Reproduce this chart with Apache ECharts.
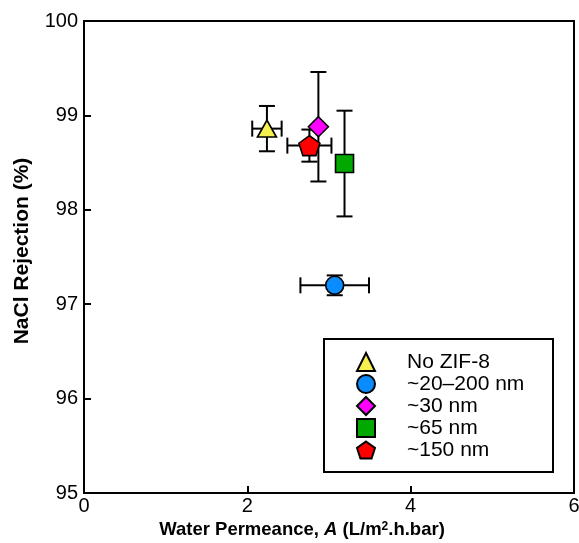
<!DOCTYPE html>
<html>
<head>
<meta charset="utf-8">
<script src="https://cdn.jsdelivr.net/npm/echarts@6/dist/echarts.min.js"></script>
<style>
  html, body { margin: 0; padding: 0; background: #fff; }
  #chart { width: 579px; height: 543px; }
</style>
</head>
<body>
<div id="chart"></div>
<script>
// Membrane samples: permeance A (L/m2.h.bar) vs NaCl rejection (%)
const sampleNames = ['No ZIF-8', '~20\u2013200 nm', '~30 nm', '~65 nm', '~150 nm'];
const permeance   = [2.24, 3.07, 2.87, 3.19, 2.76];
const permeanceErr = [0.18, 0.42, 0.00, 0.00, 0.27];
const rejection   = [98.86, 97.20, 98.88, 98.49, 98.68];
const rejectionErr = [0.24, 0.105, 0.58, 0.56, 0.17];
const xTicks = [0, 2, 4, 6];
const yTicks = [95, 96, 97, 98, 99, 100];

const markerSymbols = [
  'triangle',
  'circle',
  'diamond',
  'rect',
  'path://M0,-10 L9.51,-3.09 L5.88,8.09 L-5.88,8.09 L-9.51,-3.09 Z'
];
const markerColors = ['#f5f050', '#0a8cff', '#ff00ff', '#00a800', '#ff0000'];
const markerSizes = [[19, 17], 18, 20, 18, [21, 20]];

const errorData = sampleNames.map((n, i) =>
  [permeance[i], rejection[i], permeanceErr[i], rejectionErr[i]]);

function renderErrorBars(params, api) {
  const x = api.value(0), y = api.value(1);
  const dx = api.value(2), dy = api.value(3);
  const cap = 8;
  const style = { stroke: '#000', lineWidth: 2 };
  const children = [];
  if (dy > 0) {
    const top = api.coord([x, y + dy]);
    const bot = api.coord([x, y - dy]);
    children.push(
      { type: 'line', shape: { x1: top[0], y1: top[1], x2: bot[0], y2: bot[1] }, style },
      { type: 'line', shape: { x1: top[0] - cap, y1: top[1], x2: top[0] + cap, y2: top[1] }, style },
      { type: 'line', shape: { x1: bot[0] - cap, y1: bot[1], x2: bot[0] + cap, y2: bot[1] }, style }
    );
  }
  if (dx > 0) {
    const l = api.coord([x - dx, y]);
    const r = api.coord([x + dx, y]);
    children.push(
      { type: 'line', shape: { x1: l[0], y1: l[1], x2: r[0], y2: r[1] }, style },
      { type: 'line', shape: { x1: l[0], y1: l[1] - cap, x2: l[0], y2: l[1] + cap }, style },
      { type: 'line', shape: { x1: r[0], y1: r[1] - cap, x2: r[0], y2: r[1] + cap }, style }
    );
  }
  return { type: 'group', children };
}

// draw order for markers (diamond ends on top)
const markerOrder = [1, 0, 3, 4, 2];

const series = [{
  type: 'custom',
  name: 'errors',
  renderItem: renderErrorBars,
  data: errorData,
  z: 1,
  silent: true
}];
markerOrder.forEach((i, k) => {
  series.push({
    type: 'scatter',
    name: sampleNames[i],
    symbol: markerSymbols[i],
    symbolSize: markerSizes[i],
    data: [[permeance[i], rejection[i]]],
    itemStyle: { color: markerColors[i], borderColor: '#000', borderWidth: 1.6, opacity: 1 },
    z: 3 + k
  });
});

const font = 'Liberation Sans, Arial, Helvetica, sans-serif';
const chart = echarts.init(document.getElementById('chart'));
chart.setOption({
  animation: false,
  backgroundColor: '#fff',
  grid: {
    left: 84, right: 5, top: 21, bottom: 50,
    outerBoundsMode: 'none',
    containLabel: false,
    show: true, borderColor: '#000', borderWidth: 2, backgroundColor: 'transparent'
  },
  xAxis: {
    type: 'value', min: xTicks[0], max: xTicks[xTicks.length - 1], interval: 2,
    splitLine: { show: false },
    axisLine: { show: true, lineStyle: { color: '#000', width: 2 } },
    axisTick: { inside: true, length: 7, lineStyle: { color: '#000', width: 2 } },
    axisLabel: { color: '#000', fontSize: 20, fontFamily: font, margin: 3,
      showMinLabel: true, showMaxLabel: true },
    name: '{b|Water Permeance, }{i|A}{b| (L/m}{s|2}{b|.h.bar)}',
    nameLocation: 'middle', nameGap: 26,
    nameTextStyle: {
      padding: [0, 54, 0, 0],
      rich: {
        b: { fontSize: 18.5, fontWeight: 'bold', fontFamily: font, color: '#000' },
        i: { fontSize: 18.5, fontWeight: 'bold', fontStyle: 'italic', fontFamily: font, color: '#000' },
        s: { fontSize: 12, fontWeight: 'bold', fontFamily: font, color: '#000', verticalAlign: 'top', padding: [0, 0, 7, 0] }
      }
    }
  },
  yAxis: {
    type: 'value', min: yTicks[0], max: yTicks[yTicks.length - 1], interval: 1,
    splitLine: { show: false },
    axisLine: { show: true, lineStyle: { color: '#000', width: 2 } },
    axisTick: { inside: true, length: 7, lineStyle: { color: '#000', width: 2 } },
    axisLabel: { color: '#000', fontSize: 20, fontFamily: font, margin: 6 },
    name: 'NaCl Rejection (%)',
    nameLocation: 'middle', nameGap: 51, nameRotate: 90,
    nameTextStyle: { fontSize: 21, fontWeight: 'bold', fontFamily: font, color: '#000', padding: [0, 0, 0, 12] }
  },
  legend: {
    data: sampleNames,
    orient: 'vertical',
    left: 356, top: 351,
    itemWidth: 18, itemHeight: 18, itemGap: 0,
    padding: 0,
    selectedMode: false,
    textStyle: { fontSize: 21, lineHeight: 22, fontFamily: font, color: '#000', padding: [0, 0, 0, 27] }
  },
  graphic: [{
    type: 'rect', left: 323, top: 338, z: 0,
    shape: { width: 229, height: 133 },
    style: { fill: '#fff', stroke: '#000', lineWidth: 2 }
  }],
  series
});
</script>
</body>
</html>
